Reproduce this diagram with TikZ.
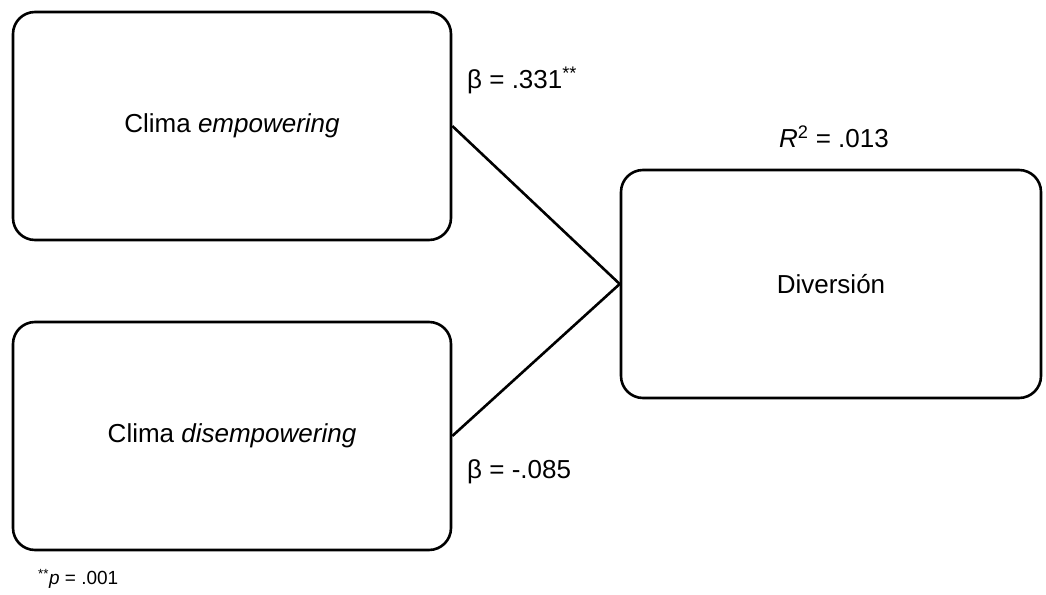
\documentclass[tikz,border=0pt]{standalone}
\usepackage{fontspec}
\setmainfont{Liberation Sans}
\usepackage{tikz}
\usetikzlibrary{arrows.meta}

\tikzset{
  varbox/.style={draw, line width=2.6pt, rounded corners=22pt, minimum width=438pt, minimum height=228pt, inner sep=0pt, font=\fontsize{26}{31}\selectfont},
  coef/.style={anchor=west, inner sep=0pt, font=\fontsize{26}{31}\selectfont}
}

\begin{document}
\begin{tikzpicture}[x=1pt, y=-1pt]
      \useasboundingbox (0, 0) rectangle (1046, 594);
      \node[varbox] (emp) at (232, 126) {Clima \textit{empowering}};
      \node[varbox] (dis) at (232, 436) {Clima \textit{disempowering}};
      \node[varbox, minimum width=420pt] (div) at (831, 284) {Diversión};
      \draw[line width=2.6pt] (emp.east) -- (div.west);
      \draw[line width=2.6pt] (dis.east) -- (div.west);
      \node[coef] (b1) at (467, 80) {β = .331\textsuperscript{**}};
      \node[coef] (r2) at (779, 137) {\textit{R}\textsuperscript{2} = .013};
      \node[coef] (b2) at (467, 472) {β = -.085};
      \node[coef, font=\fontsize{19}{23}\selectfont] (note) at (38, 579) {\textsuperscript{**}\textit{p} = .001};
    \end{tikzpicture}
\end{document}
